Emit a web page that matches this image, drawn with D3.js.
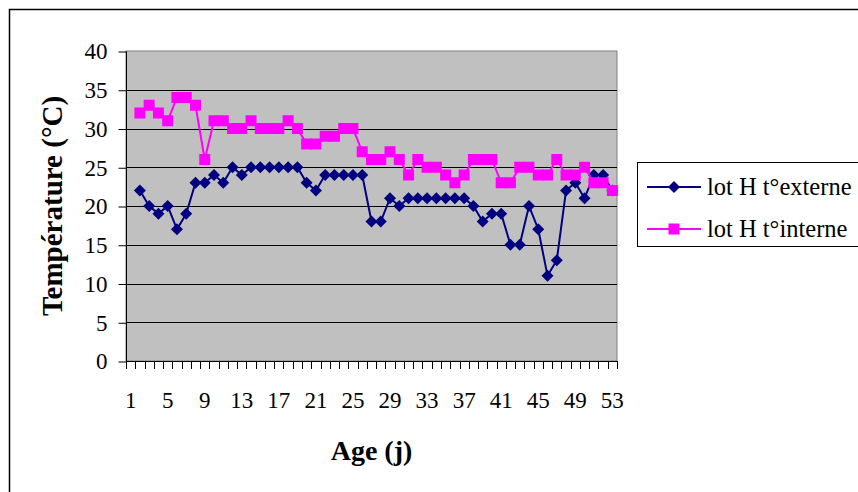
<!DOCTYPE html>
<html><head><meta charset="utf-8">
<script src="https://cdn.jsdelivr.net/npm/d3@7"></script>
<style>body{margin:0;background:#fff}svg{display:block}</style>
</head><body>
<svg id="c" width="858" height="492"></svg>
<script>
const ages = d3.range(1, 54);
const tickLabels = [1,5,9,13,17,21,25,29,33,37,41,45,49,53];
const yTicks = [0,5,10,15,20,25,30,35,40];
const seriesNames = ["lot H t°externe", "lot H t°interne"];
// category 1 has no measurement
const externe = [null,22,20,19,20,17,19,23,23,24,23,25,24,25,25,25,25,25,25,23,22,24,24,24,24,24,18,18,21,20,21,21,21,21,21,21,21,20,18,19,19,15,15,20,17,11,13,22,23,21,24,24,22];
const interne = [null,32,33,32,31,34,34,33,26,31,31,30,30,31,30,30,30,31,30,28,28,29,29,30,30,27,26,26,27,26,24,26,25,25,24,23,24,26,26,26,23,23,25,25,24,24,26,24,24,25,23,23,22];

const svg = d3.select("#c");
const font = "'Liberation Serif','Times New Roman',serif";
const L = 126, R = 617, T = 51, B = 361;
const x = d3.scaleBand().domain(ages).range([L, R]).padding(0);
const y = d3.scaleLinear().domain([0, 40]).range([B, T]);

// outer frame
svg.append("rect").attr("x", 9.5).attr("y", 9.5).attr("width", 900).attr("height", 600)
  .attr("fill", "none").attr("stroke", "#000").attr("stroke-width", 1.5);

// plot area
svg.append("rect").attr("x", L).attr("y", T).attr("width", R - L).attr("height", B - T)
  .attr("fill", "#c0c0c0").attr("stroke", "#808080").attr("stroke-width", 1);

// gridlines
svg.append("g").selectAll("line").data(yTicks.filter(d => d > 0 && d < 40)).join("line")
  .attr("x1", L).attr("x2", R).attr("y1", d => Math.round(y(d)) + 0.5).attr("y2", d => Math.round(y(d)) + 0.5)
  .attr("stroke", "#000").attr("stroke-width", 1);

// y axis
const yAxis = d3.axisLeft(y).tickValues(yTicks).tickSize(8).tickPadding(11);
const gy = svg.append("g").attr("transform", `translate(${L + 0.5},0.5)`).call(yAxis)
  .attr("font-family", font).attr("font-size", 23);
gy.select(".domain").attr("stroke", "#000").attr("d", `M0,${T}V${B}`);
gy.selectAll("text").attr("fill", "#000");

// x axis (ticks between categories)
const bounds = ages.map(a => x(a)).concat([R]);
svg.append("line").attr("x1", L).attr("x2", R).attr("y1", B + 0.5).attr("y2", B + 0.5).attr("stroke", "#000");
svg.append("g").selectAll("line").data(bounds).join("line")
  .attr("x1", d => Math.round(d) + 0.5).attr("x2", d => Math.round(d) + 0.5)
  .attr("y1", B).attr("y2", B + 8).attr("stroke", "#000");
svg.append("g").selectAll("text").data(tickLabels).join("text")
  .attr("x", d => x(d) + x.bandwidth() / 2).attr("y", 408)
  .attr("text-anchor", "middle").attr("font-family", font).attr("font-size", 23).text(d => d);

// axis titles
svg.append("text").attr("transform", "translate(62,206) rotate(-90)")
  .attr("text-anchor", "middle").attr("font-family", font).attr("font-weight", "bold")
  .attr("font-size", 29).text("Température (°C)");
svg.append("text").attr("x", (L + R) / 2).attr("y", 460)
  .attr("text-anchor", "middle").attr("font-family", font).attr("font-weight", "bold")
  .attr("font-size", 28).text("Age (j)");

const cx = d => x(d) + x.bandwidth() / 2;
const line = d3.line().defined(d => d[1] != null).x(d => cx(d[0])).y(d => y(d[1]));
const ext = ages.map((a, i) => [a, externe[i]]);
const inn = ages.map((a, i) => [a, interne[i]]);
const blue = "#000080", pink = "#ff00ff";
const dpath = "M0,-6L6,0L0,6L-6,0Z";
const sq = 11;

// externe
svg.append("path").datum(ext).attr("d", line).attr("fill", "none").attr("stroke", blue).attr("stroke-width", 2);
svg.append("g").selectAll("path").data(ext.filter(d => d[1] != null)).join("path")
  .attr("d", dpath).attr("transform", d => `translate(${cx(d[0])},${y(d[1])})`).attr("fill", blue);
// interne
svg.append("path").datum(inn).attr("d", line).attr("fill", "none").attr("stroke", pink).attr("stroke-width", 2);
svg.append("g").selectAll("rect").data(inn.filter(d => d[1] != null)).join("rect")
  .attr("x", d => cx(d[0]) - sq / 2).attr("y", d => y(d[1]) - sq / 2).attr("width", sq).attr("height", sq).attr("fill", pink);

// legend
const lg = svg.append("g");
lg.append("rect").attr("x", 637.5).attr("y", 162.5).attr("width", 260).attr("height", 84)
  .attr("fill", "#fff").attr("stroke", "#000").attr("stroke-width", 1);
const items = [{n: seriesNames[0], c: blue, m: "d", yy: 187}, {n: seriesNames[1], c: pink, m: "s", yy: 229}];
items.forEach(it => {
  lg.append("line").attr("x1", 647).attr("x2", 701).attr("y1", it.yy).attr("y2", it.yy).attr("stroke", it.c).attr("stroke-width", 2);
  if (it.m === "d") lg.append("path").attr("d", dpath).attr("transform", `translate(674,${it.yy})`).attr("fill", it.c);
  else lg.append("rect").attr("x", 674 - sq / 2).attr("y", it.yy - sq / 2).attr("width", sq).attr("height", sq).attr("fill", it.c);
  lg.append("text").attr("x", 707).attr("y", it.yy + 8).attr("font-family", font).attr("font-size", 24.5).text(it.n);
});
</script>
</body></html>
